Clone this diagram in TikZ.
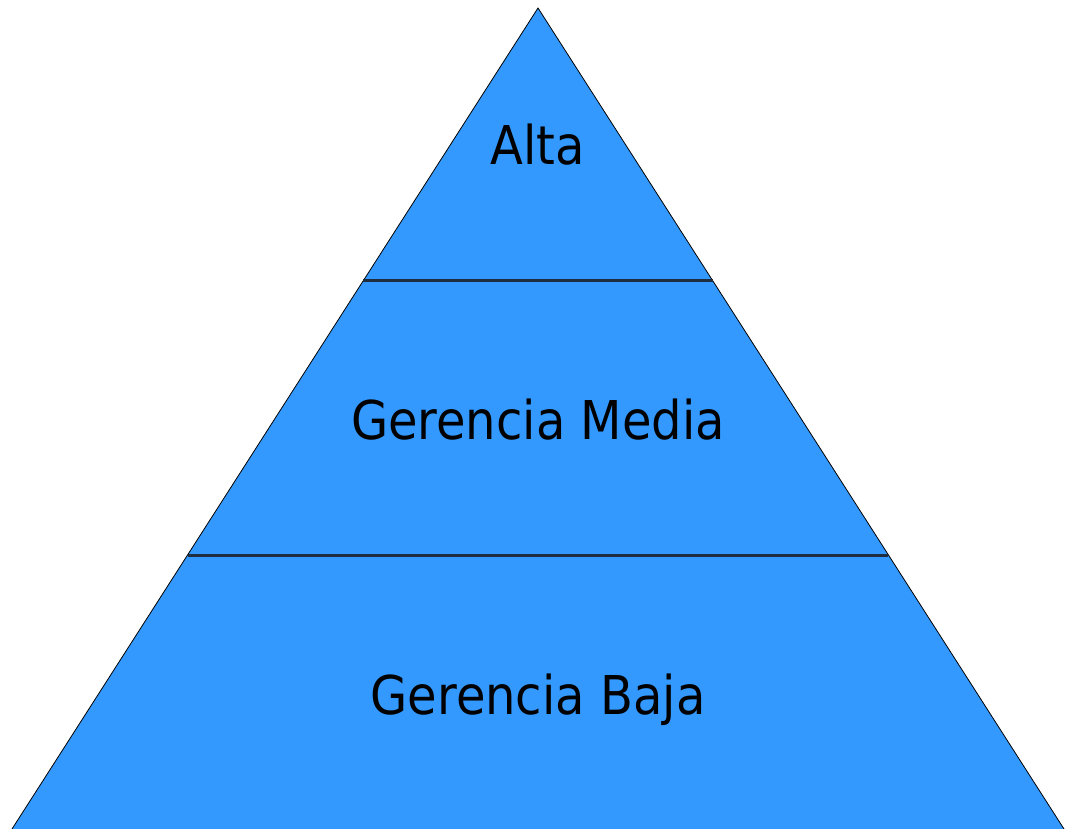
\documentclass[tikz,border=0pt]{standalone}
\usepackage{fontspec}
\usepackage{graphicx}
\setmainfont{DejaVu Sans}
\definecolor{pyrblue}{HTML}{3399FF}
\definecolor{divline}{HTML}{1E2E40}
\newcommand{\tallt}[1]{\scalebox{1.015}[1.13]{#1}}
\begin{document}
\begin{tikzpicture}[x=1pt,y=-1pt,
  level/.style={fill=pyrblue,draw=none},
  edge/.style={draw=black,line width=0.8pt},
  divider/.style={draw=divline,line width=3pt},
  label/.style={font=\fontsize{47.3}{50}\selectfont,anchor=base,inner sep=0pt}]
\useasboundingbox (0,0) rectangle (1072,829);
\coordinate (apex) at (538,8);
\coordinate (l1) at (363.1,281);
\coordinate (r1) at (712.9,281);
\coordinate (l2) at (187.6,555);
\coordinate (r2) at (888.4,555);
\coordinate (bl) at (12,829);
\coordinate (br) at (1064,829);
\fill[level] (apex) -- (br) -- (bl) -- cycle;
\draw[edge] (bl) -- (apex) -- (br);
\draw[divider] (l1) -- (r1);
\draw[divider] (l2) -- (r2);
\node[label] (alta) at (538,165) {\tallt{Alta}};
\node[label] (media) at (538,439) {\tallt{Gerencia Media}};
\node[label] (baja) at (538,714) {\tallt{Gerencia Baja}};
\end{tikzpicture}
\end{document}
